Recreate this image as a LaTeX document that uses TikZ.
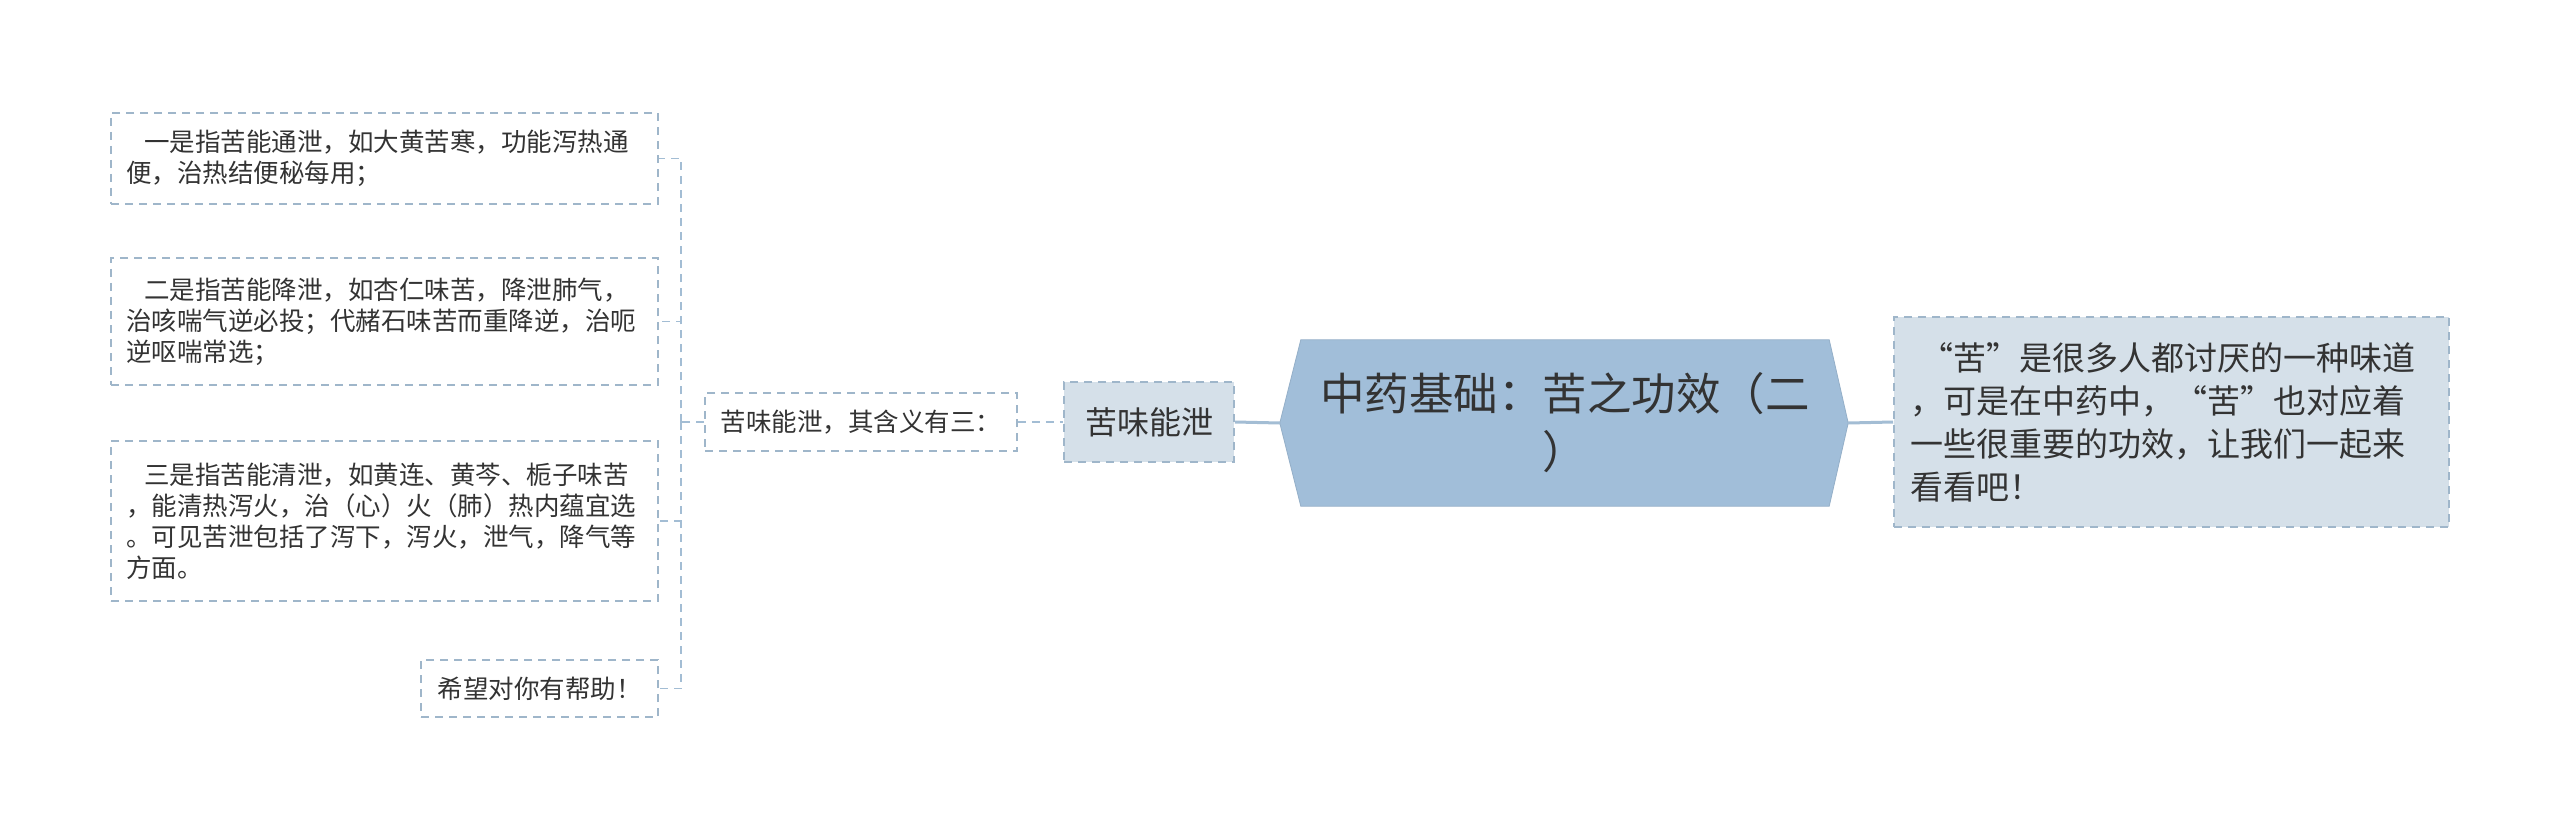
\documentclass[tikz,border=0pt]{standalone}
\usepackage{fontspec}
\setmainfont{Noto Sans CJK SC}
\usetikzlibrary{backgrounds}
\definecolor{edgecol}{HTML}{A3BDD4}
\definecolor{boxline}{HTML}{9FB6CA}
\definecolor{lightfill}{HTML}{D5E0E9}
\definecolor{hexfill}{HTML}{A1BED9}
\definecolor{txt}{HTML}{333333}
\begin{document}
\begin{tikzpicture}[x=1pt,y=-1pt,
  dashbox/.style={draw=boxline, line width=1.6pt, dash pattern=on 8pt off 6pt, text=txt, inner sep=0pt},
  leaf/.style={dashbox, align=left, inner xsep=15pt, text width=517pt, font=\fontsize{25.5}{31}\selectfont},
  conn/.style={draw=edgecol, line width=1.6pt, dash pattern=on 8pt off 6pt},
  solidconn/.style={draw=edgecol, line width=3pt}]
\useasboundingbox (0,0) rectangle (2560,829);

\node[leaf, minimum height=91pt] (b1) at (384.5,158.5)
  {\hspace*{18pt}一是指苦能通泄，如大黄苦寒，功能泻热通\\便，治热结便秘每用；};
\node[leaf, minimum height=127pt] (b2) at (384.5,321.5)
  {\hspace*{18pt}二是指苦能降泄，如杏仁味苦，降泄肺气，\\治咳喘气逆必投；代赭石味苦而重降逆，治呃\\逆呕喘常选；};
\node[leaf, minimum height=160pt] (b3) at (384.5,521)
  {\hspace*{18pt}三是指苦能清泄，如黄连、黄芩、栀子味苦\\，能清热泻火，治（心）火（肺）热内蕴宜选\\。可见苦泄包括了泻下，泻火，泄气，降气等\\方面。};
\node[dashbox, minimum width=237pt, minimum height=57pt, font=\fontsize{25.5}{31}\selectfont] (b4) at (539.5,688.5)
  {希望对你有帮助！};

\node[dashbox, minimum width=312pt, minimum height=58pt, font=\fontsize{25.5}{31}\selectfont] (sub) at (861,422)
  {苦味能泄，其含义有三：};
\node[dashbox, fill=lightfill, minimum width=170pt, minimum height=80pt, font=\fontsize{32}{40}\selectfont] (mid) at (1149,422)
  {苦味能泄};

\node[align=center, text=txt, minimum width=528pt, minimum height=166pt, inner sep=0pt, font=\fontsize{44.5}{58}\selectfont] (hex) at (1565,423)
  {中药基础：苦之功效（二\\）};
\coordinate (hexL) at ([xshift=-21pt]hex.west);
\coordinate (hexR) at ([xshift=19pt]hex.east);
\begin{scope}[on background layer]
  \fill[white] (0,0) rectangle (2560,829);
  \fill[hexfill, draw=hexfill!92!black, line width=0.8pt] (hex.north west) -- (hex.north east) -- (hexR) -- (hex.south east) -- (hex.south west) -- (hexL) -- cycle;
\end{scope}

\node[dashbox, fill=lightfill, align=left, inner xsep=16pt, text width=523pt, minimum height=210pt, font=\fontsize{33}{43}\selectfont] (rb) at (2171.5,422)
  {\hspace*{10pt}“苦”是很多人都讨厌的一种味道\\，可是在中药中，“苦”也对应着\\一些很重要的功效，让我们一起来\\看看吧！};

\coordinate (brk) at (681,422);
\draw[conn] (sub.west) -- (brk);
\draw[conn] (brk) |- (b1.east);
\draw[conn] (brk) |- (b2.east);
\draw[conn] (brk) |- (b3.east);
\draw[conn] (brk) |- (b4.east);
\draw[conn] (sub.east) -- (mid.west);
\draw[solidconn] (mid.east) -- (hexL);
\draw[solidconn] (hexR) -- (rb.west);
\end{tikzpicture}
\end{document}
